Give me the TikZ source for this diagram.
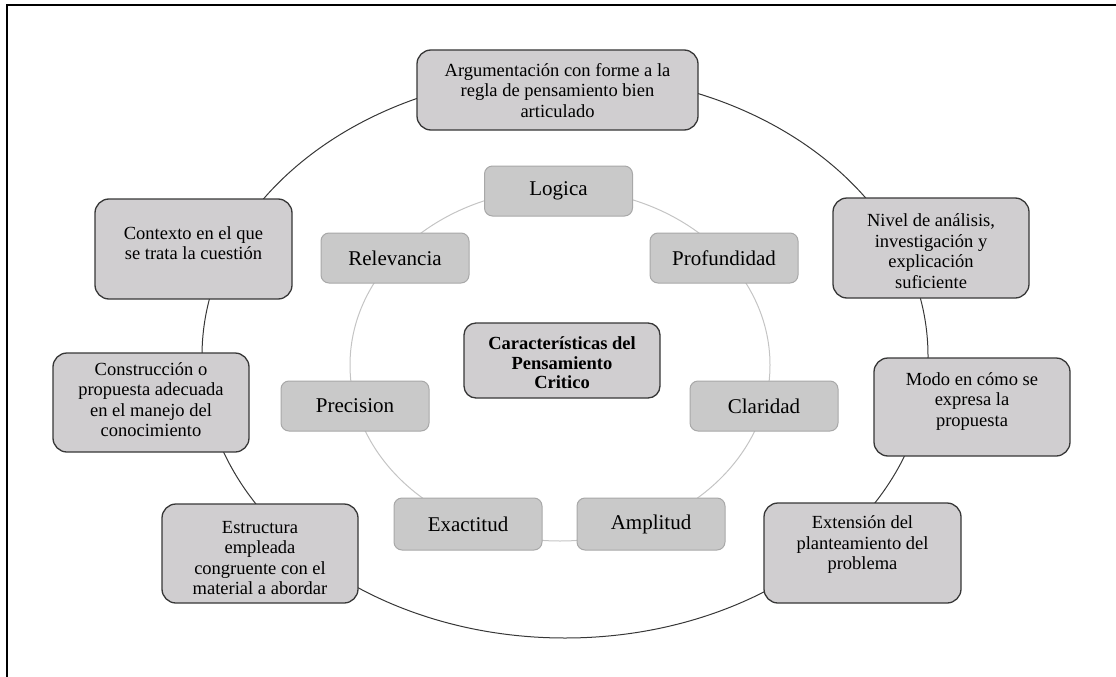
\documentclass[tikz,border=0pt]{standalone}
\usepackage{fontspec}
\setmainfont{LiberationSerif}[Extension=.ttf, UprightFont=*-Regular, BoldFont=*-Bold, ItalicFont=*-Italic, BoldItalicFont=*-BoldItalic]
\definecolor{boxgray}{RGB}{208,206,208}
\definecolor{innergray}{RGB}{201,201,201}
\definecolor{innerborder}{RGB}{168,168,168}
\definecolor{innerline}{RGB}{196,196,196}
\definecolor{darkline}{RGB}{55,55,55}
\begin{document}
\begin{tikzpicture}[x=1pt,y=-1pt,
  outerbox/.style={draw=darkline, line width=1.3pt, fill=boxgray, rounded corners=14pt,
    minimum width=196pt, minimum height=100pt, inner sep=0pt},
  otext/.style={align=center, inner sep=0pt, font=\fontsize{18.5}{20.5}\selectfont},
  innerbox/.style={draw=innerborder, line width=1pt, fill=innergray, rounded corners=8pt,
    minimum width=148pt, minimum height=50pt, inner sep=0pt, font=\fontsize{21}{24}\selectfont},
  centerbox/.style={draw=darkline, line width=1.3pt, fill=boxgray, rounded corners=12pt,
    minimum width=196pt, minimum height=75pt, inner sep=0pt},
  ctext/.style={align=center, inner sep=0pt, font=\fontsize{18.5}{19.5}\selectfont\bfseries},
  ring/.style={draw=darkline, line width=1pt},
  innerring/.style={draw=innerline, line width=1pt}
]
\useasboundingbox (0,0) rectangle (1116,677);
\coordinate (fa) at (7,677);
\coordinate (fb) at (7,5);
\coordinate (fc) at (1116,5);
\draw[line width=1.6pt] (fa) -- (fb) -- (fc);

% rings
\coordinate (oc) at (565,356);
\coordinate (ic) at (560,365);
\draw[ring] (oc) ellipse [x radius=363, y radius=282];
\draw[innerring] (ic) ellipse [x radius=210, y radius=176];

% outer boxes
\node[outerbox, minimum width=281pt, minimum height=80pt] (arg) at (557.5,90) {};
\node[otext] (argt) at (557.5,90.5) {Argumentación con forme a la\\regla de pensamiento bien\\articulado};

\node[outerbox] (niv) at (931,248) {};
\node[otext] (nivt) at (931,251) {Nivel de análisis,\\investigación y\\explicación\\suficiente};

\node[outerbox, minimum height=98pt] (modo) at (972,407) {};
\node[otext] (modot) at (972,401.5) {Modo en cómo se\\expresa la\\propuesta};

\node[outerbox, minimum width=197pt] (ext) at (862.5,553) {};
\node[otext] (extt) at (862.5,545) {Extensión del\\planteamiento del\\problema};

\node[outerbox, minimum height=99pt] (est) at (260,553.5) {};
\node[otext] (estt) at (260,558) {Estructura\\empleada\\congruente con el\\material a abordar};

\node[outerbox, minimum height=99pt] (cons) at (151,402.5) {};
\node[otext] (const) at (151,399.5) {Construcción o\\propuesta adecuada\\en el manejo del\\conocimiento};

\node[outerbox, minimum width=197pt] (ctx) at (193.5,249) {};
\node[otext] (ctxt) at (193.5,243) {Contexto en el que\\se trata la cuestión};

% center
\node[centerbox] (cen) at (562,360.5) {};
\node[ctext] (cent) at (562,363) {Características del\\Pensamiento\\Critico};

% inner boxes
\node[innerbox] (log) at (558.5,191) {Logica};
\node[innerbox] (rel) at (395,258) {Relevancia};
\node[innerbox] (pro) at (724,258) {Profundidad};
\node[innerbox] (pre) at (355,406) {Precision};
\node[innerbox] (cla) at (764,406) {Claridad};
\node[innerbox, minimum height=52pt] (exa) at (468,524) {Exactitud};
\node[innerbox, minimum height=52pt] (amp) at (651,524) {Amplitud};
\end{tikzpicture}
\end{document}
